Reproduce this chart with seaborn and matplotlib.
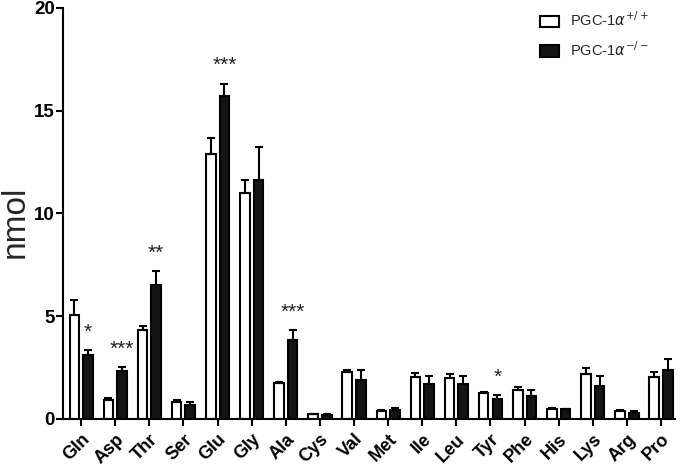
import matplotlib
matplotlib.use("Agg")
import matplotlib.pyplot as plt
import seaborn as sns
import pandas as pd
import numpy as np

amino_acids = ["Gln", "Asp", "Thr", "Ser", "Glu", "Gly", "Ala", "Cys", "Val",
               "Met", "Ile", "Leu", "Tyr", "Phe", "His", "Lys", "Arg", "Pro"]
wt_mean = [5.06, 0.90, 4.35, 0.83, 12.90, 10.98, 1.75, 0.23, 2.26,
           0.41, 2.06, 2.01, 1.25, 1.43, 0.50, 2.21, 0.37, 2.04]
wt_err = [0.74, 0.12, 0.15, 0.07, 0.78, 0.63, 0.03, 0.02, 0.12,
          0.03, 0.18, 0.16, 0.08, 0.11, 0.03, 0.27, 0.07, 0.25]
ko_mean = [3.13, 2.31, 6.54, 0.67, 15.69, 11.65, 3.86, 0.21, 1.90,
           0.42, 1.72, 1.72, 0.96, 1.14, 0.46, 1.60, 0.28, 2.37]
ko_err = [0.23, 0.22, 0.68, 0.16, 0.63, 1.59, 0.46, 0.04, 0.50,
          0.13, 0.39, 0.39, 0.21, 0.26, 0.04, 0.49, 0.13, 0.53]
stars = {"Gln": "*", "Asp": "***", "Thr": "**", "Glu": "***", "Ala": "***", "Tyr": "*"}
groups = [r"PGC-1$\alpha^{+/+}$", r"PGC-1$\alpha^{-/-}$"]

df = pd.DataFrame({
    "aa": amino_acids * 2,
    "group": [groups[0]] * len(amino_acids) + [groups[1]] * len(amino_acids),
    "value": wt_mean + ko_mean,
})

sns.set_theme(style="ticks")
plt.rcParams["font.family"] = ["Liberation Sans", "DejaVu Sans"]

fig = plt.figure(figsize=(6.85, 4.66), dpi=100)
ax = fig.add_axes([0.092, 0.101, 0.893, 0.882])

sns.barplot(data=df, x="aa", y="value", hue="group", order=amino_acids,
            hue_order=groups, palette=["white", "#141414"], edgecolor="black",
            linewidth=1.5, width=0.8, gap=0.3, errorbar=None, ax=ax)

n = len(amino_acids)
bars = list(ax.patches)[: 2 * n]
wt_bars = bars[:n]
ko_bars = bars[n:2 * n]
for blist, means, errs in [(wt_bars, wt_mean, wt_err), (ko_bars, ko_mean, ko_err)]:
    xs = [b.get_x() + b.get_width() / 2 for b in blist]
    ax.errorbar(xs, means, yerr=[np.zeros(n), errs], fmt="none", ecolor="black",
                elinewidth=1.5, capsize=3, capthick=1.5, zorder=1)

for i, aa in enumerate(amino_acids):
    if aa in stars:
        b = ko_bars[i]
        x = b.get_x() + b.get_width() / 2
        y = ko_mean[i] + ko_err[i] + 0.4
        ax.text(x, y, stars[aa], ha="center", va="bottom", fontsize=15,
                color="#222222")

ax.set_ylim(0, 20)
ax.set_xlim(-0.53, 17.4)
ax.set_yticks([0, 5, 10, 15, 20])
ax.set_xlabel("")
ax.set_ylabel("nmol", fontsize=24)
ax.yaxis.set_label_coords(-0.052, 0.48)
sns.despine(ax=ax)
for s in ["left", "bottom"]:
    ax.spines[s].set_linewidth(1.5)
    ax.spines[s].set_color("black")
ax.tick_params(axis="both", direction="out", width=1.5, length=5, colors="black")
ax.tick_params(axis="y", pad=1)
for lab in ax.get_yticklabels():
    lab.set_fontweight("bold")
    lab.set_fontsize(13.5)
ax.set_xticks(range(n))
ax.set_xticklabels(amino_acids, rotation=45, ha="right", rotation_mode="anchor",
                   fontweight="bold", fontsize=13)

leg = ax.legend(loc="upper right", bbox_to_anchor=(0.978, 1.025), frameon=False,
                fontsize=10.5, handlelength=1.25, handleheight=0.85,
                handletextpad=0.75, labelspacing=0.75)

fig.savefig("out.png", dpi=100)
